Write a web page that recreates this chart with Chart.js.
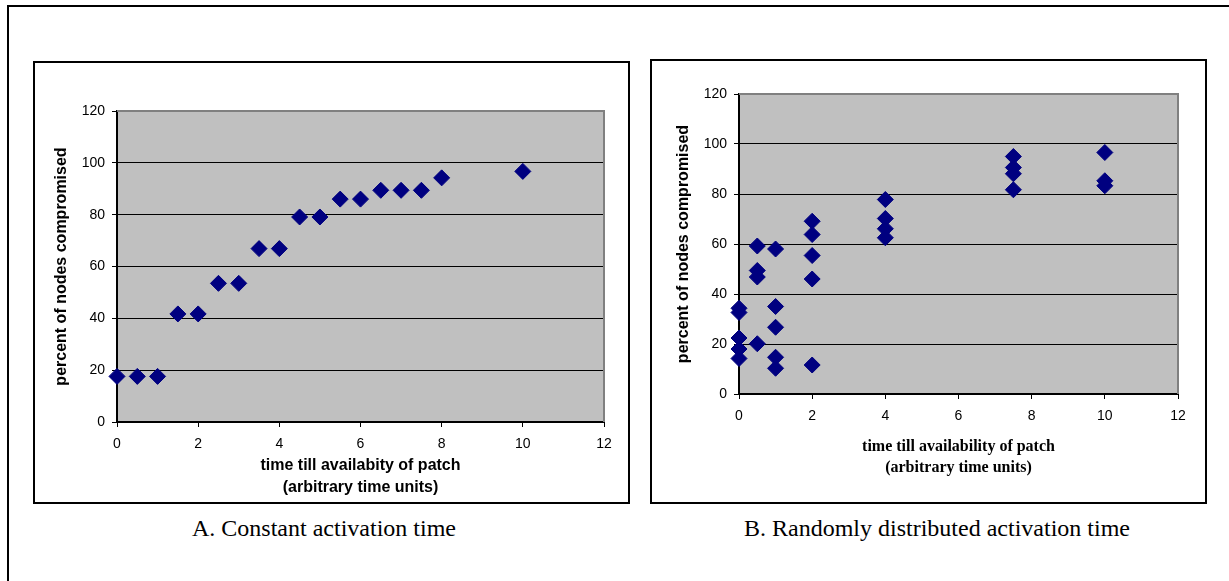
<!DOCTYPE html>
<html>
<head>
<meta charset="utf-8">
<script src="https://cdn.jsdelivr.net/npm/chart.js@4/dist/chart.umd.min.js"></script>
<style>
    html, body { margin: 0; padding: 0; background: #fff; overflow: hidden; }
    body { width: 1229px; height: 581px; position: relative; }
    .frame { position: absolute; border: 2px solid #000; box-sizing: border-box; }
    canvas { position: absolute; }
    .caption {
        position: absolute; width: 600px; text-align: center;
        font-family: "Liberation Serif", "Times New Roman", serif; font-size: 24px; color: #000;
    }
</style>
</head>
<body>
<div class="frame" style="left:7px;top:5px;width:1400px;height:800px"></div>
<div class="frame" style="left:33px;top:61px;width:597px;height:443px"></div>
<div class="frame" style="left:650px;top:59px;width:557px;height:445px"></div>

<canvas id="chartA" width="595" height="441" style="left:34px;top:62px"></canvas>
<canvas id="chartB" width="555" height="443" style="left:651px;top:60px"></canvas>

<div class="caption" style="left:24px;top:515px">A. Constant activation time</div>
<div class="caption" style="left:637px;top:515px">B. Randomly distributed activation time</div>

<script>
// Chart A: constant activation time
const timesA = [0, 0.5, 1, 1.5, 2, 2.5, 3, 3.5, 4, 4.5, 5, 5.5, 6, 6.5, 7, 7.5, 8, 10];
const compromisedA = [17.6, 17.6, 17.6, 41.7, 41.7, 53.5, 53.5, 66.9, 66.9, 79.1, 79.1, 86, 86, 89.4, 89.4, 89.4, 94.2, 96.7];

// Chart B: randomly distributed activation time
const timesB = [0, 0, 0, 0, 0, 0.5, 0.5, 0.5, 0.5, 1, 1, 1, 1, 1, 2, 2, 2, 2, 2, 4, 4, 4, 4, 7.5, 7.5, 7.5, 7.5, 10, 10, 10];
const compromisedB = [34.3, 32.6, 22.4, 18, 14.2, 59.2, 49.4, 46.8, 20.1, 58, 35, 26.7, 14.7, 10.3,
    69.1, 63.8, 55.4, 46, 11.6, 77.8, 70.2, 66.1, 62.5, 95, 90.6, 88.1, 81.7, 96.6, 85.3, 83.3];

// Axis ticks and titles
const xTicks = { min: 0, max: 12, step: 2 };
const yTicks = { min: 0, max: 120, step: 20 };
const xTitle = ['time till availabity of patch', '(arbitrary time units)'];
const xTitleB = ['time till availability of patch', '(arbitrary time units)'];
const yTitle = 'percent of nodes compromised';

const SANS = '"Liberation Sans", Arial, sans-serif';
const SERIF = '"Liberation Serif", "Times New Roman", serif';

// grey plot background plus grey top/right edge, like the old Excel charts
const plotFrame = {
    id: 'plotFrame',
    beforeDraw(chart) {
        const { ctx, chartArea: a } = chart;
        ctx.save();
        ctx.fillStyle = '#c0c0c0';
        ctx.fillRect(a.left, a.top, a.right - a.left, a.bottom - a.top);
        ctx.restore();
    },
    beforeDatasetsDraw(chart) {
        const { ctx, chartArea: a } = chart;
        ctx.save();
        ctx.strokeStyle = '#808080';
        ctx.lineWidth = 2;
        ctx.beginPath();
        ctx.moveTo(a.left, a.top);
        ctx.lineTo(a.right, a.top);
        ctx.lineTo(a.right, a.bottom);
        ctx.stroke();
        ctx.restore();
    }
};

function makeScatter(id, xs, ys, cfg) {
    const points = xs.map((x, i) => ({ x: x, y: ys[i] }));
    return new Chart(document.getElementById(id), {
        type: 'scatter',
        data: {
            datasets: [{
                data: points,
                pointStyle: 'rectRot',
                pointRadius: 8,
                pointHoverRadius: 8,
                backgroundColor: '#000080',
                borderColor: '#000080',
                borderWidth: 1,
                clip: false
            }]
        },
        options: {
            responsive: false,
            animation: false,
            events: [],
            layout: { padding: { top: cfg.padTop, right: cfg.padRight, left: 0, bottom: 0 } },
            plugins: { legend: { display: false }, tooltip: { enabled: false } },
            scales: {
                x: {
                    type: 'linear',
                    min: xTicks.min,
                    max: xTicks.max,
                    afterFit: s => { s.height = cfg.xHeight; },
                    ticks: { stepSize: xTicks.step, padding: 9, color: '#000', font: { family: SANS, size: 14 } },
                    grid: { drawOnChartArea: false, tickLength: 5, tickColor: '#000', tickWidth: 1 },
                    border: { color: '#000', width: 2 },
                    title: {
                        display: true,
                        text: cfg.xTitle,
                        color: '#000',
                        font: { family: cfg.xTitleFont, size: 16, weight: 'bold', lineHeight: cfg.xTitleLine + 'px' },
                        padding: { top: 0, bottom: cfg.xTitlePad }
                    }
                },
                y: {
                    min: yTicks.min,
                    max: yTicks.max,
                    afterFit: s => { s.width = cfg.yWidth; },
                    ticks: { stepSize: yTicks.step, padding: 7, color: '#000', font: { family: SANS, size: 14 } },
                    grid: {
                        color: c => (c.tick && c.tick.value === yTicks.max) ? 'rgba(0,0,0,0)' : '#000',
                        lineWidth: 1,
                        tickLength: 5,
                        tickColor: '#000'
                    },
                    border: { color: '#000', width: 2 },
                    title: {
                        display: true,
                        text: yTitle,
                        color: '#000',
                        font: { family: SANS, size: 16, weight: 'bold', lineHeight: 1.2 },
                        padding: { top: cfg.yTitlePad, bottom: 0 }
                    }
                }
            }
        },
        plugins: [plotFrame]
    });
}

makeScatter('chartA', timesA, compromisedA, {
    padTop: 49, padRight: 25, xHeight: 81, yWidth: 83,
    xTitle: xTitle, xTitleFont: SANS, xTitleLine: 22, xTitlePad: 4, yTitlePad: 18
});

makeScatter('chartB', timesB, compromisedB, {
    padTop: 34, padRight: 28, xHeight: 109, yWidth: 88,
    xTitle: xTitleB, xTitleFont: SERIF, xTitleLine: 21, xTitlePad: 25, yTitlePad: 23
});
</script>
</body>
</html>
